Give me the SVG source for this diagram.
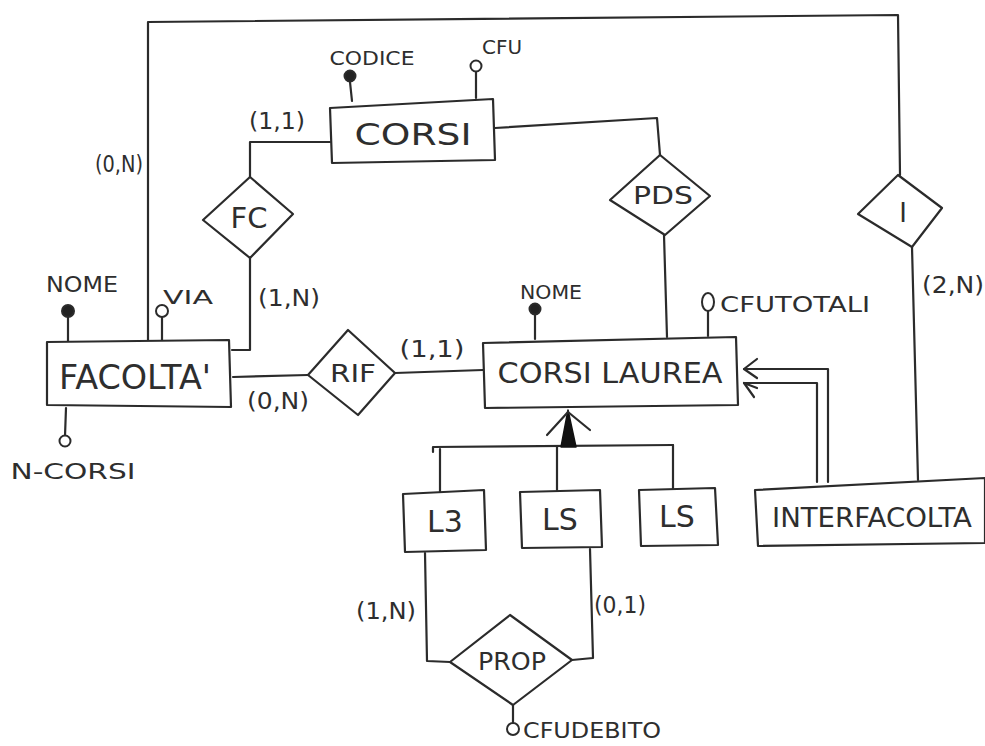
<svg xmlns="http://www.w3.org/2000/svg" width="985" height="746" viewBox="0 0 985 746">
<defs>
<style>
.s{fill:none;stroke:#2b2b2b;stroke-width:2.2;stroke-linejoin:round;stroke-linecap:round}
.b{fill:#fff;stroke:#2b2b2b;stroke-width:2.2;stroke-linejoin:round}
.t{font-family:"DejaVu Sans",sans-serif;fill:#2e2e2e;text-anchor:middle;dominant-baseline:central}
.a{font-size:19px}
.c{font-size:23px}
.k{fill:#222;stroke:#2b2b2b;stroke-width:2}
.o{fill:#fff;stroke:#2b2b2b;stroke-width:2}
</style>
</defs>
<rect width="985" height="746" fill="#fff"/>
<g id="connectors">
<path class="s" d="M148,340 L148,22 L898,15 L900,175"/>
<path class="s" d="M330,142 L250,142 L250,177"/>
<path class="s" d="M250,258 L250,350 L232,350"/>
<path class="s" d="M495,128 L657,118 L660,155"/>
<path class="s" d="M664,235 L667,337"/>
<path class="s" d="M912,247 L918,480"/>
<path class="s" d="M233,377 L308,375"/>
<path class="s" d="M395,373 L483,370"/>
<path class="s" d="M828,482 L828,369 L744,369"/>
<path class="s" d="M757,359 L744,369 L757,378"/>
<path class="s" d="M817,482 L817,383 L744,383"/>
<path class="s" d="M757,388 L744,383 L754,397"/>
<path class="s" d="M433,452 L433,447 L673,445"/>
<path d="M568,410 L561,447 L576,447 Z" fill="#111" stroke="#111" stroke-width="1.5" stroke-linejoin="round"/>
<path class="s" d="M547,435 L568,412 L590,430"/>
<path class="s" d="M440,449 L440,492"/>
<path class="s" d="M557,447 L557,490"/>
<path class="s" d="M673,445 L673,490"/>
<path class="s" d="M425,553 L427,661 L450,662"/>
<path class="s" d="M590,549 L593,658 L572,660"/>
<path class="s" d="M513,705 L513,724"/>
<path class="s" d="M350,82 L352,101"/>
<path class="s" d="M476,72 L476,98"/>
<path class="s" d="M68,317 L68,342"/>
<path class="s" d="M162,317 L162,340"/>
<path class="s" d="M66,408 L65,436"/>
<path class="s" d="M535,315 L535,339"/>
<path class="s" d="M708,311 L708,336"/>
</g>
<g id="CORSI">
<path class="b" d="M330,108 L493,99 L495,160 L332,163 Z"/>
<text class="t" style="font-size:30px" x="413" y="134" textLength="117" lengthAdjust="spacingAndGlyphs">CORSI</text>
</g>
<g id="CODICE">
<circle class="k" cx="350" cy="76" r="5.5"/>
<text class="t a" x="372" y="58" textLength="85" lengthAdjust="spacingAndGlyphs">CODICE</text>
</g>
<g id="CFU">
<circle class="o" cx="476" cy="66" r="5.5"/>
<text class="t a" x="502" y="47" textLength="40" lengthAdjust="spacingAndGlyphs">CFU</text>
</g>
<g id="FC">
<path class="b" d="M250,177 L293,214 L250,258 L203,220 Z"/>
<text class="t" style="font-size:29px" x="249" y="218">FC</text>
</g>
<g id="PDS">
<path class="b" d="M660,155 L710,196 L665,235 L610,200 Z"/>
<text class="t" style="font-size:25px" x="663" y="195" textLength="60" lengthAdjust="spacingAndGlyphs">PDS</text>
</g>
<g id="I">
<path class="b" d="M898,175 L942,208 L912,247 L858,214 Z"/>
<text class="t" style="font-size:26px" x="903" y="213">I</text>
</g>
<g id="FACOLTA">
<path class="b" d="M47,342 L229,340 L231,407 L47,405 Z"/>
<text class="t" style="font-size:34px" x="135" y="377" textLength="152" lengthAdjust="spacingAndGlyphs">FACOLTA'</text>
</g>
<g id="NOME1">
<circle class="k" cx="68" cy="311" r="6"/>
<text class="t" style="font-size:22px" x="82" y="284" textLength="72" lengthAdjust="spacingAndGlyphs">NOME</text>
</g>
<g id="VIA">
<circle class="o" cx="162" cy="311" r="6"/>
<text class="t a" x="188" y="297" textLength="50" lengthAdjust="spacingAndGlyphs">VIA</text>
</g>
<g id="NCORSI">
<circle class="o" cx="65" cy="441" r="5.5"/>
<text class="t" style="font-size:21px" x="73" y="472" textLength="125" lengthAdjust="spacingAndGlyphs">N-CORSI</text>
</g>
<g id="RIF">
<path class="b" d="M348,330 L395,373 L358,415 L308,375 Z"/>
<text class="t" style="font-size:24px" x="353" y="374" textLength="46" lengthAdjust="spacingAndGlyphs">RIF</text>
</g>
<g id="CORSILAUREA">
<path class="b" d="M483,343 L736,337 L738,405 L485,408 Z"/>
<text class="t" style="font-size:29px" x="610" y="373" textLength="225" lengthAdjust="spacingAndGlyphs">CORSI LAUREA</text>
</g>
<g id="NOME2">
<circle class="k" cx="535" cy="309" r="5.5"/>
<text class="t a" x="551" y="292" textLength="62" lengthAdjust="spacingAndGlyphs">NOME</text>
</g>
<g id="CFUTOTALI">
<ellipse class="o" cx="708" cy="302" rx="6" ry="9"/>
<text class="t" style="font-size:21px" x="795" y="305" textLength="150" lengthAdjust="spacingAndGlyphs">CFUTOTALI</text>
</g>
<g id="L3">
<path class="b" d="M403,494 L484,490 L486,550 L405,552 Z"/>
<text class="t" style="font-size:30px" x="445" y="521">L3</text>
</g>
<g id="LS1">
<path class="b" d="M520,492 L600,490 L602,547 L522,548 Z"/>
<text class="t" style="font-size:30px" x="560" y="519">LS</text>
</g>
<g id="LS2">
<path class="b" d="M639,490 L715,488 L718,545 L641,546 Z"/>
<text class="t" style="font-size:30px" x="677" y="516">LS</text>
</g>
<g id="INTERFACOLTA">
<path class="b" d="M755,490 L985,478 L985,543 L758,546 Z"/>
<text class="t" style="font-size:27px" x="872" y="517" textLength="200" lengthAdjust="spacingAndGlyphs">INTERFACOLTA</text>
</g>
<g id="PROP">
<path class="b" d="M510,615 L572,660 L513,705 L450,662 Z"/>
<text class="t" style="font-size:25px" x="512" y="661" textLength="68" lengthAdjust="spacingAndGlyphs">PROP</text>
</g>
<g id="CFUDEBITO">
<circle class="o" cx="513" cy="729" r="6"/>
<text class="t" style="font-size:21px" x="592" y="731" textLength="138" lengthAdjust="spacingAndGlyphs">CFUDEBITO</text>
</g>
<g id="labels">
<text class="t c" x="277" y="121" textLength="56" lengthAdjust="spacingAndGlyphs">(1,1)</text>
<text class="t c" x="119" y="164" textLength="48" lengthAdjust="spacingAndGlyphs">(0,N)</text>
<text class="t c" x="289" y="298" textLength="62" lengthAdjust="spacingAndGlyphs">(1,N)</text>
<text class="t c" x="278" y="401" textLength="62" lengthAdjust="spacingAndGlyphs">(0,N)</text>
<text class="t c" x="432" y="349" textLength="65" lengthAdjust="spacingAndGlyphs">(1,1)</text>
<text class="t c" x="953" y="285" textLength="62" lengthAdjust="spacingAndGlyphs">(2,N)</text>
<text class="t c" x="386" y="611" textLength="60" lengthAdjust="spacingAndGlyphs">(1,N)</text>
<text class="t c" x="620" y="605" textLength="52" lengthAdjust="spacingAndGlyphs">(0,1)</text>
</g>
</svg>
